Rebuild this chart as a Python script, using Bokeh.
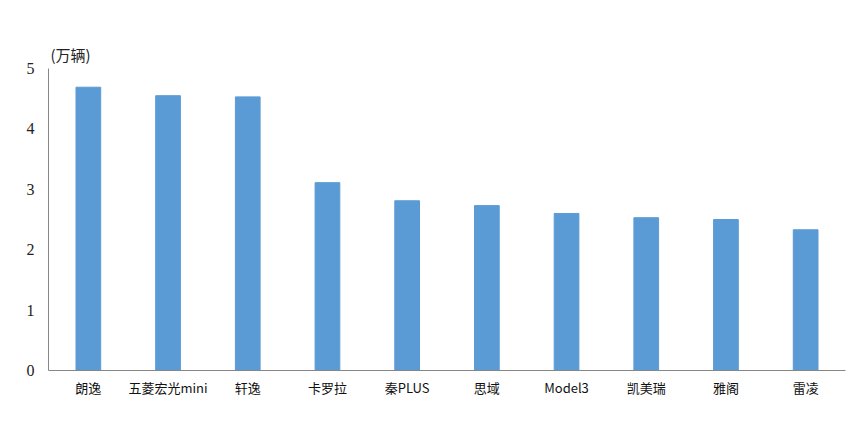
from bokeh.plotting import figure
from bokeh.models import Range1d, FactorRange
from bokeh.embed import file_html
from bokeh.resources import INLINE

categories = ["朗逸", "五菱宏光mini", "轩逸", "卡罗拉", "秦PLUS", "思域", "Model3", "凯美瑞", "雅阁", "雷凌"]
sales = [4.69, 4.55, 4.53, 3.11, 2.81, 2.73, 2.60, 2.53, 2.50, 2.33]
y_ticks = [0, 1, 2, 3, 4, 5]
unit_label = "(万辆)"

p = figure(width=849, height=411, x_range=FactorRange(*categories, range_padding=0),
           y_range=Range1d(0, 5), output_backend="svg", toolbar_location=None,
           min_border_left=48, min_border_right=4, min_border_top=68, min_border_bottom=41)

p.vbar(x=categories, top=sales, width=0.31, color="#5B9BD5")

p.title.text = unit_label
p.title.align = "left"
p.title.offset = 2
p.title.text_font = "Noto Sans CJK SC"
p.title.text_font_size = "15px"
p.title.text_font_style = "normal"
p.title.text_color = "#222222"
p.title.standoff = 7

p.outline_line_color = None
p.grid.grid_line_color = None

p.yaxis.ticker = y_ticks
p.yaxis.major_tick_line_color = None
p.yaxis.major_tick_out = 0
p.yaxis.major_tick_in = 0
p.yaxis.minor_tick_line_color = None
p.yaxis.axis_line_color = "#868686"
p.yaxis.major_label_text_font = "Liberation Serif"
p.yaxis.major_label_text_font_size = "16px"
p.yaxis.major_label_text_color = "#222222"
p.yaxis.major_label_standoff = 14

p.xaxis.major_tick_line_color = None
p.xaxis.major_tick_out = 0
p.xaxis.major_tick_in = 0
p.xaxis.minor_tick_line_color = None
p.xaxis.axis_line_color = "#868686"
p.xaxis.major_label_text_font = "Noto Sans CJK SC"
p.xaxis.major_label_text_font_size = "13px"
p.xaxis.major_label_text_color = "#111111"
p.xaxis.major_label_standoff = 7

open("out.html", "w").write(file_html(p, INLINE))
